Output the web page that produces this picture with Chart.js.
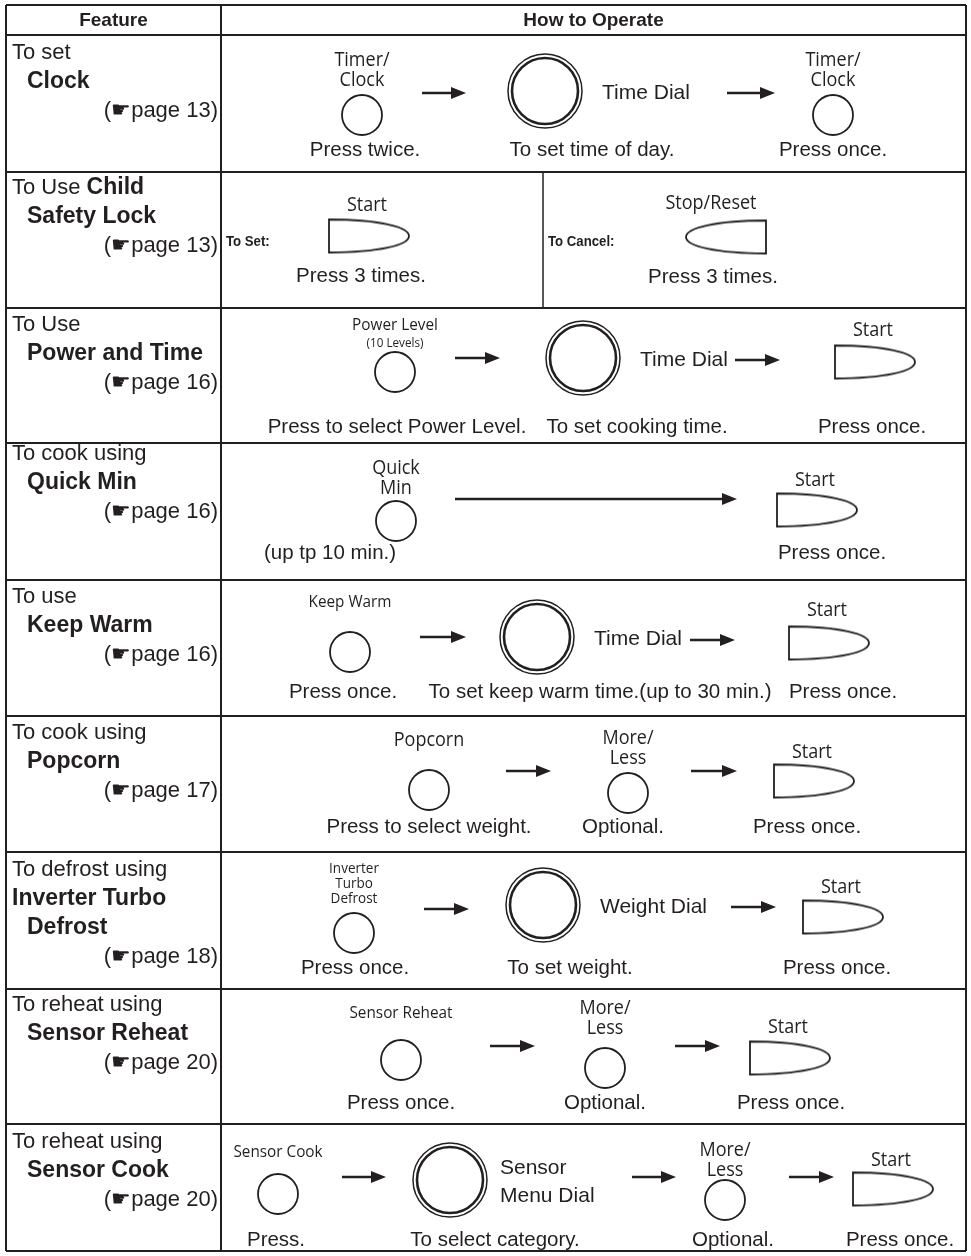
<!DOCTYPE html>
<html>
<head>
<meta charset="utf-8">
<script src="https://cdn.jsdelivr.net/npm/chart.js@4.4.1/dist/chart.umd.min.js"></script>
<style>
  html, body { margin: 0; padding: 0; background: #fff; }
  canvas { display: block; }
</style>
</head>
<body>
<canvas id="chart" width="971" height="1256" style="width:971px;height:1256px"></canvas>
<script>
// ---- content ----
const headers = ['Feature', 'How to Operate'];
const features = [
  ['To set', '>**Clock**'],
  ['To Use **Child**', '>**Safety Lock**'],
  ['To Use', '>**Power and Time**'],
  ['To cook using', '>**Quick Min**'],
  ['To use', '>**Keep Warm**'],
  ['To cook using', '>**Popcorn**'],
  ['To defrost using', '**Inverter Turbo**', '>**Defrost**'],
  ['To reheat using', '>**Sensor Reheat**'],
  ['To reheat using', '>**Sensor Cook**']
];
const pages = [13, 13, 16, 16, 16, 17, 18, 20, 20];

const buttonLabels = ['Timer/|Clock', 'Timer/|Clock', 'Power Level|(10 Levels)', 'Quick|Min', 'Keep Warm',
  'Popcorn', 'More/|Less', 'Inverter|Turbo|Defrost', 'Sensor Reheat', 'More/|Less', 'Sensor Cook', 'More/|Less'];
const dialLabels = ['Time Dial', 'Time Dial', 'Time Dial', 'Weight Dial', 'Sensor|Menu Dial'];
const startLabels = ['Start', 'Start', 'Start', 'Start', 'Start', 'Start', 'Start', 'Start'];
const stopLabels = ['Stop/Reset'];
const sideLabels = ['To Set:', 'To Cancel:'];
const captions = [
  ['Press twice.', 'To set time of day.', 'Press once.'],
  ['Press 3 times.', 'Press 3 times.'],
  ['Press to select Power Level.', 'To set cooking time.', 'Press once.'],
  ['(up tp 10 min.)', 'Press once.'],
  ['Press once.', 'To set keep warm time.(up to 30 min.)', 'Press once.'],
  ['Press to select weight.', 'Optional.', 'Press once.'],
  ['Press once.', 'To set weight.', 'Press once.'],
  ['Press once.', 'Optional.', 'Press once.'],
  ['Press.', 'To select category.', 'Optional.', 'Press once.']
];

// ---- layout (table units = page pixels) ----
const rowEdges = [5, 35, 172, 308, 443, 580, 716, 852, 989, 1124, 1251];
const colEdges = [6, 221, 966];
const featureTop = [53, 188, 325, 454, 597, 733, 870, 1005, 1142];

const buttonX = [362, 833, 395, 396, 350, 429, 628, 354, 401, 605, 278, 725];
const buttonY = [115, 115, 372, 521, 652, 790, 793, 933, 1060, 1068, 1194, 1200];
const buttonLabelY = [80, 80, 343, 488, 602, 740, 758, 899, 1013, 1028, 1152, 1170];
const buttonLabelSize = [20, 20, 17, 20, 17, 20, 20, 15, 17, 20, 17, 20];

const dialX = [545, 583, 537, 543, 450];
const dialY = [91, 358, 637, 905, 1180];

const startX = [369, 875, 817, 829, 814, 843, 790, 893];
const startY = [236, 362, 510, 643, 781, 917, 1058, 1189];
const startLabelY = [205, 330, 480, 610, 752, 887, 1027, 1160];
const stopX = [726];
const stopY = [237];
const stopLabelY = [203];

const arrowX1 = [422, 727, 455, 735, 455, 420, 690, 506, 691, 424, 731, 490, 675, 342, 632, 789];
const arrowX2 = [466, 775, 500, 780, 737, 466, 735, 551, 737, 469, 776, 535, 720, 386, 676, 834];
const arrowY  = [93, 93, 358, 360, 499, 637, 640, 771, 771, 909, 907, 1046, 1046, 1177, 1177, 1177];

const captionY = [150, 276, 427, 553, 692, 827, 968, 1103, 1240];
const captionX = [
  [365, 592, 833],
  [361, 713],
  [397, 637, 872],
  [330, 832],
  [343, 600, 843],
  [429, 623, 807],
  [355, 570, 837],
  [401, 605, 791],
  [276, 495, 733, 900]
];

const INK = '#231f20';
const SANS = '"Liberation Sans", Arial, sans-serif';
const LABEL = '"Open Sans", sans-serif';

// start button shape as a point style
function bulletCanvas(flip) {
  const w = 80, h = 33, c = document.createElement('canvas');
  c.width = w + 4; c.height = h + 4;
  const g = c.getContext('2d');
  g.translate(2, 2);
  if (flip) { g.translate(w, 0); g.scale(-1, 1); }
  g.beginPath();
  g.moveTo(0, 0);
  g.bezierCurveTo(w * 0.62, 0, w, h * 0.22, w, h / 2);
  g.bezierCurveTo(w, h * 0.78, w * 0.62, h, 0, h);
  g.closePath();
  g.fillStyle = '#fff';
  g.fill();
  g.lineWidth = 1.8;
  g.strokeStyle = INK;
  g.stroke();
  return c;
}
function headCanvas() {
  const c = document.createElement('canvas');
  c.width = 15; c.height = 12;
  const g = c.getContext('2d');
  g.beginPath(); g.moveTo(0, 0); g.lineTo(15, 6); g.lineTo(0, 12); g.closePath();
  g.fillStyle = INK; g.fill();
  return c;
}

const pts = (xs, ys) => xs.map((x, i) => ({ x, y: ys[i] }));
const arrowLine = [];
arrowX1.forEach((x, i) => {
  arrowLine.push({ x, y: arrowY[i] }, { x: arrowX2[i] - 12, y: arrowY[i] }, { x: arrowX2[i], y: null });
});
const arrowHeads = arrowX2.map((x, i) => ({ x: x - 7.5, y: arrowY[i] }));

function parseLine(s) {
  const indent = s.startsWith('>');
  if (indent) s = s.slice(1);
  const segs = s.split('**').map((t, i) => [t, i % 2 === 1]).filter(p => p[0]);
  return { indent, segs };
}

function squeezed(ctx, text, x, y, sx) {
  ctx.save();
  ctx.translate(x, y);
  ctx.scale(sx, 1);
  ctx.fillText(text, 0, 0);
  ctx.restore();
}

const tableText = {
  id: 'tableText',
  afterDatasetsDraw(chart) {
    const { ctx, scales } = chart;
    const X = v => scales.x.getPixelForValue(v);
    const Y = v => scales.y.getPixelForValue(v);
    ctx.save();
    ctx.fillStyle = INK;
    ctx.strokeStyle = INK;
    ctx.textBaseline = 'middle';

    // split line in child lock row
    ctx.lineWidth = 1.5;
    ctx.beginPath();
    ctx.moveTo(X(543), Y(rowEdges[2]));
    ctx.lineTo(X(543), Y(rowEdges[3]));
    ctx.stroke();

    // headers
    ctx.textAlign = 'center';
    ctx.font = 'bold 19px ' + SANS;
    ctx.fillText(headers[0], X((colEdges[0] + colEdges[1]) / 2), Y(21));
    ctx.fillText(headers[1], X((colEdges[1] + colEdges[2]) / 2), Y(21));

    // feature column
    features.forEach((lines, r) => {
      const y0 = featureTop[r];
      ctx.textAlign = 'left';
      lines.forEach((ln, i) => {
        const { indent, segs } = parseLine(ln);
        let x = X(indent ? 27 : 12);
        segs.forEach(([t, b]) => {
          ctx.font = (b ? 'bold 23px ' : '22px ') + SANS;
          ctx.fillText(t, x, Y(y0 + i * 29));
          x += ctx.measureText(t).width;
        });
      });
      ctx.textAlign = 'right';
      ctx.font = '22px ' + SANS;
      ctx.fillText('(\u261Bpage ' + pages[r] + ')', X(218), Y(y0 + lines.length * 29));
    });

    // button labels
    ctx.textAlign = 'center';
    buttonLabels.forEach((lab, i) => {
      const lines = lab.split('|');
      const size = buttonLabelSize[i];
      const gap = size < 16 ? 15 : (lines[1] && lines[1].startsWith('(') ? 18 : 20);
      lines.forEach((t, k) => {
        const small = t.startsWith('(');
        ctx.font = (small ? 13 : size) + 'px ' + LABEL;
        const y = buttonLabelY[i] - (lines.length - 1 - k) * gap;
        squeezed(ctx, t, X(buttonX[i]), Y(y), 0.9);
      });
    });
    ctx.font = '20px ' + LABEL;
    startLabels.forEach((t, i) => squeezed(ctx, t, X(startX[i] - 2), Y(startLabelY[i]), 0.9));
    stopLabels.forEach((t, i) => squeezed(ctx, t, X(stopX[i] - 15), Y(stopLabelY[i]), 0.9));

    // dial names
    ctx.textAlign = 'left';
    ctx.font = '21px ' + SANS;
    dialLabels.forEach((lab, i) => {
      const lines = lab.split('|');
      const off = lines.length > 1 ? 50 : 57;
      lines.forEach((t, k) => {
        const y = dialY[i] + 2 + (k - (lines.length - 1) / 2) * 28;
        ctx.fillText(t, X(dialX[i] + off), Y(y));
      });
    });

    // side labels in child lock row
    ctx.font = 'bold 15px ' + SANS;
    squeezed(ctx, sideLabels[0], X(226), Y(242), 0.88);
    squeezed(ctx, sideLabels[1], X(548), Y(242), 0.88);

    // captions
    ctx.textAlign = 'center';
    ctx.font = '20.5px ' + SANS;
    captions.forEach((row, r) => {
      row.forEach((t, k) => ctx.fillText(t, X(captionX[r][k]), Y(captionY[r] + (r === 1 && k === 1 ? 1 : 0))));
    });
    ctx.restore();
  }
};

const gridScale = (edges, extra) => Object.assign({
  type: 'linear',
  min: edges[0],
  max: edges[edges.length - 1],
  ticks: { display: false },
  grid: { color: INK, lineWidth: 2, drawTicks: false },
  border: { display: false },
  afterBuildTicks: s => { s.ticks = edges.map(v => ({ value: v })); }
}, extra);

new Chart(document.getElementById('chart'), {
  type: 'scatter',
  data: {
    datasets: [
      { data: pts(buttonX, buttonY), pointStyle: 'circle', pointRadius: 20,
        pointBorderWidth: 1.8, pointBorderColor: INK, pointBackgroundColor: '#fff' },
      { data: pts(dialX, dialY), pointStyle: 'circle', pointRadius: 37,
        pointBorderWidth: 1.5, pointBorderColor: INK, pointBackgroundColor: 'rgba(0,0,0,0)' },
      { data: pts(dialX, dialY), pointStyle: 'circle', pointRadius: 33,
        pointBorderWidth: 2.6, pointBorderColor: INK, pointBackgroundColor: 'rgba(0,0,0,0)' },
      { data: pts(startX, startY), pointStyle: bulletCanvas(false), pointRadius: 10 },
      { data: pts(stopX, stopY), pointStyle: bulletCanvas(true), pointRadius: 10 },
      { data: arrowHeads, pointStyle: headCanvas(), pointRadius: 10 },
      { type: 'line', data: arrowLine, borderColor: INK, borderWidth: 2.5, pointRadius: 0,
        spanGaps: false, fill: false, tension: 0 }
    ]
  },
  options: {
    responsive: false,
    animation: false,
    events: [],
    devicePixelRatio: 1,
    layout: {
      autoPadding: false,
      padding: { left: colEdges[0], top: rowEdges[0], right: 971 - colEdges[2], bottom: 1256 - rowEdges[rowEdges.length - 1] }
    },
    plugins: { legend: { display: false }, tooltip: { enabled: false } },
    scales: {
      x: gridScale(colEdges),
      y: gridScale(rowEdges, { reverse: true })
    }
  },
  plugins: [tableText]
});
</script>
</body>
</html>
